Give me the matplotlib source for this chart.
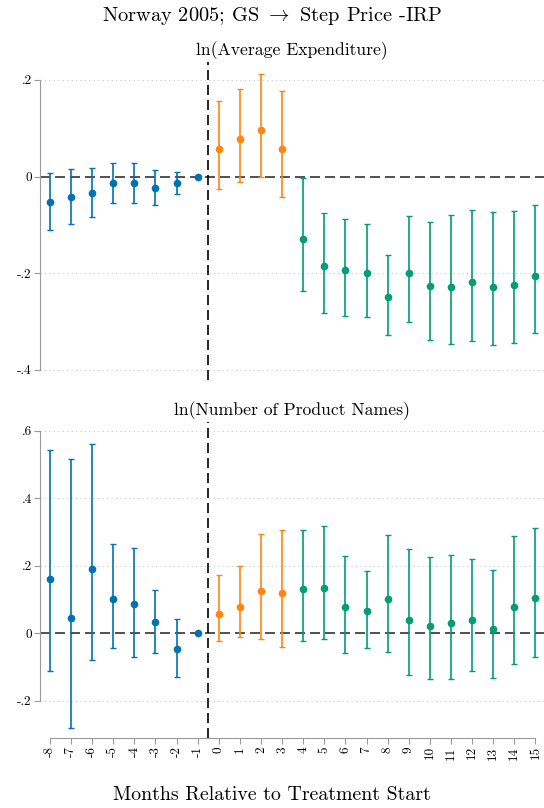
import matplotlib
matplotlib.use("Agg")
from matplotlib import pyplot as plt

plt.rcParams['font.family'] = 'cmr10'
plt.rcParams['mathtext.fontset'] = 'cm'
plt.rcParams['axes.unicode_minus'] = False

## data
months = list(range(-8, 16))

# ln(Average Expenditure)
exp_coef = [-0.053, -0.043, -0.035, -0.014, -0.014, -0.023, -0.013, 0.0,
            0.057, 0.077, 0.097, 0.057,
            -0.130, -0.186, -0.194, -0.200, -0.250, -0.199, -0.227, -0.229,
            -0.219, -0.228, -0.225, -0.206]
exp_hi = [0.007, 0.016, 0.017, 0.028, 0.028, 0.013, 0.010, 0.0,
          0.157, 0.181, 0.212, 0.176,
          -0.003, -0.076, -0.088, -0.098, -0.163, -0.082, -0.094, -0.079,
          -0.069, -0.073, -0.071, -0.058]
exp_lo = [-0.110, -0.098, -0.083, -0.054, -0.055, -0.059, -0.037, 0.0,
          -0.025, -0.012, 0.000, -0.043,
          -0.237, -0.282, -0.288, -0.290, -0.328, -0.300, -0.338, -0.346,
          -0.341, -0.349, -0.345, -0.323]

# ln(Number of Product Names)
names_coef = [0.161, 0.046, 0.190, 0.103, 0.087, 0.033, -0.047, 0.0,
              0.056, 0.078, 0.125, 0.119,
              0.130, 0.135, 0.077, 0.066, 0.101, 0.040, 0.021, 0.032,
              0.039, 0.012, 0.078, 0.104]
names_hi = [0.544, 0.517, 0.560, 0.264, 0.252, 0.128, 0.044, 0.0,
            0.172, 0.200, 0.293, 0.305,
            0.306, 0.317, 0.230, 0.186, 0.290, 0.250, 0.225, 0.232,
            0.219, 0.189, 0.288, 0.313]
names_lo = [-0.112, -0.279, -0.078, -0.042, -0.069, -0.058, -0.130, 0.0,
            -0.022, -0.012, -0.017, -0.040,
            -0.022, -0.018, -0.057, -0.043, -0.054, -0.124, -0.135, -0.134,
            -0.112, -0.131, -0.091, -0.071]

colors = {'pre': '#0072B2', 'phase': '#FF8410', 'post': '#009E73'}


def group_of(m):
    if m < 0:
        return 'pre'
    if m < 4:
        return 'phase'
    return 'post'


def draw_panel(ax, coef, lo, hi, title, yticks, ylabels, ylim):
    ax.set_xlim(-8.47, 15.41)
    ax.set_ylim(*ylim)
    for tick in yticks:
        if tick != 0:
            ax.axhline(tick, color='#c8c8c8', lw=0.8, ls=(0, (1, 3)), zorder=0)
    ax.axhline(0, color='#333333', lw=1.2, ls=(0, (6, 3)), zorder=1)
    ax.axvline(-0.5, color='black', lw=1.2, ls=(0, (6, 3)), zorder=1)
    for g in ['pre', 'phase', 'post']:
        xs = [m for m in months if group_of(m) == g]
        ys = [c for m, c in zip(months, coef) if group_of(m) == g]
        err_lo = [c - l for m, c, l in zip(months, coef, lo) if group_of(m) == g]
        err_hi = [h - c for m, c, h in zip(months, coef, hi) if group_of(m) == g]
        ax.errorbar(xs, ys, yerr=[err_lo, err_hi], fmt='o', color=colors[g],
                    ms=4.5, elinewidth=1.2, capsize=2.4, capthick=1.0, zorder=3)
    ax.set_title(title, fontsize=12.7, pad=5)
    ax.set_yticks(yticks)
    ax.set_yticklabels(ylabels, fontsize=9.5)
    for s in ['top', 'right']:
        ax.spines[s].set_visible(False)
    ax.spines['left'].set_color('#999999')
    ax.spines['left'].set_bounds(min(yticks), max(yticks))
    ax.tick_params(axis='y', color='#999999', length=4, width=0.8, pad=2)


fig = plt.figure(figsize=(5.44, 8.08), dpi=100)
ax1 = fig.add_axes([40 / 544, 1 - 380 / 808, 504 / 544, 318 / 808])
ax2 = fig.add_axes([40 / 544, 1 - 738 / 808, 504 / 544, 316.3 / 808])

draw_panel(ax1, exp_coef, exp_lo, exp_hi, 'ln(Average Expenditure)',
           [0.2, 0, -0.2, -0.4], ['.2', '0', '-.2', '-.4'], (-0.421, 0.237))
ax1.spines['bottom'].set_visible(False)
ax1.set_xticks([])

draw_panel(ax2, names_coef, names_lo, names_hi, 'ln(Number of Product Names)',
           [0.6, 0.4, 0.2, 0, -0.2], ['.6', '.4', '.2', '0', '-.2'], (-0.31, 0.627))
ax2.spines['bottom'].set_color('#999999')
ax2.spines['bottom'].set_bounds(-8, 15)
ax2.set_xticks(months)
ax2.set_xticklabels([str(m) for m in months], rotation=90, fontsize=9.5)
ax2.tick_params(axis='x', color='#999999', length=4, width=0.8, pad=2)

fig.text(0.5, 1 - 16 / 808, r'Norway 2005; GS $\rightarrow$ Step Price -IRP',
         ha='center', va='center', fontsize=14.7)
fig.text(0.5, 1 - 795 / 808, 'Months Relative to Treatment Start',
         ha='center', va='center', fontsize=14.3)

fig.savefig('out.png', dpi=100)
